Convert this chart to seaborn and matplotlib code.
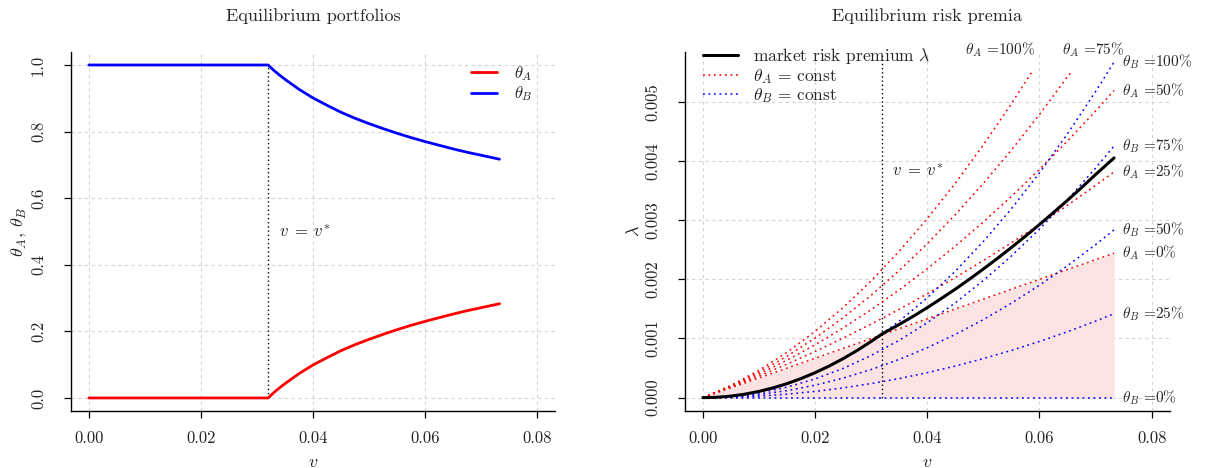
import numpy as np
import seaborn as sns
import matplotlib.pyplot as plt

# ---- data ----
v_star = 0.032

# left panel: equilibrium portfolios
v_port = [0.0, 0.032, 0.033, 0.034, 0.035, 0.0375, 0.040, 0.0425, 0.045, 0.0475, 0.050,
          0.0525, 0.055, 0.0575, 0.060, 0.0625, 0.065, 0.0675, 0.070, 0.0733]
theta_A = [0.0, 0.0, 0.016, 0.030, 0.043, 0.073, 0.099, 0.121, 0.142, 0.160, 0.176,
           0.191, 0.205, 0.218, 0.230, 0.241, 0.252, 0.262, 0.271, 0.283]
theta_B = [1.0, 1.0, 0.984, 0.970, 0.957, 0.927, 0.901, 0.879, 0.858, 0.840, 0.824,
           0.809, 0.795, 0.782, 0.770, 0.759, 0.748, 0.738, 0.729, 0.717]

# right panel: risk premia
v_grid = [0.0, 0.005, 0.010, 0.015, 0.020, 0.025, 0.030, 0.035, 0.040, 0.045,
          0.050, 0.055, 0.060, 0.065, 0.070, 0.0733]

v_mkt = [0.0, 0.0025, 0.005, 0.0075, 0.010, 0.0125, 0.015, 0.0175, 0.020, 0.0225,
         0.025, 0.0275, 0.030, 0.032, 0.0335, 0.035, 0.0375, 0.040, 0.0425, 0.045,
         0.0475, 0.050, 0.0525, 0.055, 0.0575, 0.060, 0.0625, 0.065, 0.0675, 0.070, 0.0733]
lam_mkt = [0.0, 0.0000066, 0.0000264, 0.0000593, 0.000106, 0.000165, 0.000237, 0.000323,
           0.000422, 0.000534, 0.000659, 0.000798, 0.000950, 0.001080, 0.001157, 0.001237,
           0.001375, 0.001521, 0.001675, 0.001833, 0.002000, 0.002174, 0.002352, 0.002537,
           0.002728, 0.002924, 0.003128, 0.003334, 0.003548, 0.003769, 0.004050]

lam_B0 = [0.0] * 16
lam_B25 = [0.0, 0.0000066, 0.0000264, 0.0000593, 0.000106, 0.000165, 0.000238, 0.000323,
           0.000422, 0.000534, 0.000660, 0.000798, 0.000950, 0.001114, 0.001293, 0.001417]
lam_B50 = [0.0, 0.0000132, 0.0000528, 0.000119, 0.000211, 0.000330, 0.000475, 0.000646,
           0.000844, 0.001068, 0.001319, 0.001596, 0.001899, 0.002229, 0.002585, 0.002834]
lam_B75 = [0.0, 0.0000198, 0.0000791, 0.000178, 0.000317, 0.000494, 0.000713, 0.000969,
           0.001266, 0.001602, 0.001979, 0.002393, 0.002849, 0.003343, 0.003878, 0.004251]
lam_B100 = [0.0, 0.0000264, 0.000106, 0.000237, 0.000422, 0.000659, 0.000950, 0.001292,
            0.001688, 0.002136, 0.002638, 0.003191, 0.003798, 0.004457, 0.005170, 0.005668]

lam_A0 = [0.0, 0.000167, 0.000333, 0.000500, 0.000666, 0.000833, 0.000999, 0.001166,
          0.001332, 0.001499, 0.001665, 0.001832, 0.001998, 0.002165, 0.002331, 0.002441]
lam_A25 = [0.0, 0.000177, 0.000365, 0.000567, 0.000780, 0.001006, 0.001243, 0.001493,
           0.001755, 0.002030, 0.002316, 0.002616, 0.002927, 0.003251, 0.003586, 0.003814]
lam_A50 = [0.0, 0.000187, 0.000398, 0.000634, 0.000893, 0.001178, 0.001487, 0.001821,
           0.002178, 0.002561, 0.002968, 0.003400, 0.003855, 0.004336, 0.004841, 0.005188]
v_A75 = [0.0, 0.005, 0.010, 0.015, 0.020, 0.025, 0.030, 0.035, 0.040, 0.045, 0.050,
         0.055, 0.060, 0.065, 0.0658]
lam_A75 = [0.0, 0.000197, 0.000430, 0.000700, 0.001007, 0.001351, 0.001730, 0.002148,
           0.002601, 0.003092, 0.003619, 0.004183, 0.004784, 0.005422, 0.005510]
v_A100 = [0.0, 0.005, 0.010, 0.015, 0.020, 0.025, 0.030, 0.035, 0.040, 0.045, 0.050,
          0.055, 0.0587]
lam_A100 = [0.0, 0.000207, 0.000462, 0.000767, 0.001120, 0.001523, 0.001974, 0.002475,
            0.003024, 0.003623, 0.004270, 0.004967, 0.005510]

x_ticks = [0.00, 0.02, 0.04, 0.06, 0.08]
x_ticklabels = ["0.00", "0.02", "0.04", "0.06", "0.08"]
y1_ticks = [0.0, 0.2, 0.4, 0.6, 0.8, 1.0]
y1_ticklabels = ["0.0", "0.2", "0.4", "0.6", "0.8", "1.0"]
y2_ticks = [0.0, 0.001, 0.002, 0.003, 0.004, 0.005]
y2_ticklabels = ["0.000", "0.001", "0.002", "0.003", "0.004", "0.005"]

# ---- style ----
sns.set_style("white")
plt.rcParams['font.family'] = ['cmr10', 'DejaVu Serif']
plt.rcParams['mathtext.fontset'] = 'cm'
plt.rcParams['axes.formatter.use_mathtext'] = True
plt.rcParams['axes.unicode_minus'] = False

RED = '#ff0000'
BLUE = '#0000ff'
GRID = '#d3d3d3'
DOT = (0, (1.2, 2.4))

fig = plt.figure(figsize=(12.07, 4.68), dpi=100)
ax1 = fig.add_axes([0.0588, 0.1212, 0.401, 0.7684])
ax2 = fig.add_axes([0.5675, 0.1212, 0.4015, 0.7684])


def r_axes(ax, yticks, yticklabels):
    ax.set_xticks(x_ticks, x_ticklabels)
    ax.set_yticks(yticks, yticklabels)
    for s in ['top', 'right']:
        ax.spines[s].set_visible(False)
    for s in ['left', 'bottom']:
        ax.spines[s].set_color('black')
        ax.spines[s].set_linewidth(1.0)
    ax.tick_params(axis='both', direction='out', length=5, width=0.9,
                   color='black', labelsize=12, left=True, bottom=True)
    ax.tick_params(axis='x', pad=9)
    ax.tick_params(axis='y', pad=13, labelrotation=90)
    for lab in ax.get_yticklabels():
        lab.set_va('center')
    for t in x_ticks:
        ax.axvline(t, color=GRID, lw=0.8, ls=(0, (3, 3)), zorder=0)
    for t in yticks:
        ax.axhline(t, color=GRID, lw=0.8, ls=(0, (3, 3)), zorder=0)


# ---- left panel ----
ax1.set_xlim(-0.0032, 0.0832)
ax1.set_ylim(-0.04, 1.04)
r_axes(ax1, y1_ticks, y1_ticklabels)
ax1.vlines(v_star, 0, 1, colors='black', linestyles=(0, (1, 2)), lw=1.0)
sns.lineplot(x=v_port, y=theta_A, ax=ax1, color=RED, lw=2, label=r'$\theta_A$',
             sort=False, estimator=None)
sns.lineplot(x=v_port, y=theta_B, ax=ax1, color=BLUE, lw=2, label=r'$\theta_B$',
             sort=False, estimator=None)
ax1.text(v_star + 0.002, 0.5, r'$v\;=\;v^{*}$', fontsize=12, va='center', ha='left')
ax1.legend(loc='upper right', bbox_to_anchor=(0.978, 0.998), frameon=False, fontsize=12,
           handlelength=1.6, handletextpad=1.0, labelspacing=0.1, borderpad=0.2)
ax1.set_xlabel(r'$v$', fontsize=13)
ax1.xaxis.set_label_coords(0.5, -0.12)
ax1.set_ylabel(r'$\theta_A$, $\theta_B$', fontsize=13)
ax1.yaxis.set_label_coords(-0.088, 0.5)
ax1.text(0.5, 1.10, 'Equilibrium portfolios', transform=ax1.transAxes,
         ha='center', va='center', fontsize=13)

# ---- right panel ----
ax2.set_xlim(-0.0032, 0.0832)
ax2.set_ylim(-0.00023, 0.005845)
r_axes(ax2, y2_ticks, y2_ticklabels)

ax2.fill_between(v_grid, 0, lam_A0, color='#fce3e3', lw=0, zorder=1)
ax2.vlines(v_star, 0, 0.005845, colors='black', linestyles=(0, (1, 2)), lw=1.0, zorder=2)

red_lines = [(v_grid, lam_A0), (v_grid, lam_A25), (v_grid, lam_A50),
             (v_A75, lam_A75), (v_A100, lam_A100)]
blue_lines = [lam_B0, lam_B25, lam_B50, lam_B75, lam_B100]

sns.lineplot(x=v_mkt, y=lam_mkt, ax=ax2, color='black', lw=2.2,
             label=r'market risk premium $\lambda$', sort=False, estimator=None, zorder=5)
for i, (vx, ly) in enumerate(red_lines):
    sns.lineplot(x=vx, y=ly, ax=ax2, color=RED, lw=1.1, linestyle=DOT,
                 label=r'$\theta_A$ = const' if i == 0 else '_nolegend_',
                 sort=False, estimator=None, zorder=3)
for i, ly in enumerate(blue_lines):
    sns.lineplot(x=v_grid, y=ly, ax=ax2, color=BLUE, lw=1.1, linestyle=DOT,
                 label=r'$\theta_B$ = const' if i == 0 else '_nolegend_',
                 sort=False, estimator=None, zorder=4)

# labels at the end of each curve
end_labels = [
    (r'$\theta_B$ =100%', lam_B100[-1]),
    (r'$\theta_A$ =50%', lam_A50[-1]),
    (r'$\theta_B$ =75%', lam_B75[-1]),
    (r'$\theta_A$ =25%', lam_A25[-1]),
    (r'$\theta_B$ =50%', lam_B50[-1]),
    (r'$\theta_A$ =0%', lam_A0[-1]),
    (r'$\theta_B$ =25%', lam_B25[-1]),
    (r'$\theta_B$ =0%', lam_B0[-1]),
]
for txt, yv in end_labels:
    ax2.text(v_grid[-1] + 0.0015, yv, txt, fontsize=11, ha='left', va='center',
             clip_on=False)
ax2.text(v_A100[-1] + 0.0005, 0.00588, r'$\theta_A$ =100%', fontsize=11, ha='right', va='center')
ax2.text(0.0640, 0.00588, r'$\theta_A$ =75%', fontsize=11, ha='left', va='center')
ax2.text(v_star + 0.0017, 0.00385, r'$v\;=\;v^{*}$', fontsize=12, va='center', ha='left')

ax2.legend(loc='upper left', bbox_to_anchor=(0.005, 1.06), frameon=False, fontsize=12.5,
           handlelength=2.0, handletextpad=0.9, labelspacing=0.05)
ax2.set_xlabel(r'$v$', fontsize=13)
ax2.xaxis.set_label_coords(0.5, -0.12)
ax2.set_ylabel(r'$\lambda$', fontsize=13)
ax2.yaxis.set_label_coords(-0.09, 0.5)
ax2.text(0.5, 1.10, 'Equilibrium risk premia', transform=ax2.transAxes,
         ha='center', va='center', fontsize=13)

plt.savefig('out.png', dpi=100)
